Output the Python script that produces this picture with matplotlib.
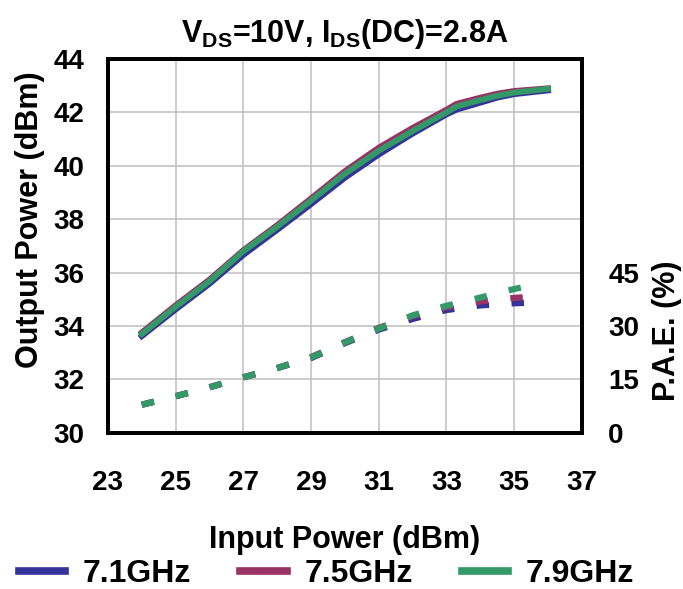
import matplotlib
matplotlib.use("Agg")
import matplotlib.pyplot as plt

plt.rcParams["font.family"] = ["Liberation Sans", "DejaVu Sans"]
plt.rcParams["font.weight"] = "bold"
plt.rcParams["mathtext.fontset"] = "custom"
plt.rcParams["mathtext.rm"] = "Liberation Sans:bold"
plt.rcParams["mathtext.it"] = "Liberation Sans:bold"
plt.rcParams["mathtext.bf"] = "Liberation Sans:bold"

# input power sweep (dBm)
pin = [24, 25, 26, 27, 28, 29, 30, 31, 32, 33, 33.3, 34, 34.5, 35, 36]

# output power (dBm)
pout_71 = [33.62, 34.62, 35.58, 36.66, 37.6, 38.56, 39.55, 40.42, 41.2, 41.92, 42.1, 42.36, 42.55, 42.68, 42.82]
pout_75 = [33.76, 34.78, 35.74, 36.84, 37.78, 38.78, 39.8, 40.68, 41.42, 42.1, 42.32, 42.55, 42.7, 42.8, 42.9]
pout_79 = [33.7, 34.72, 35.68, 36.8, 37.72, 38.7, 39.7, 40.56, 41.3, 42.0, 42.22, 42.46, 42.62, 42.74, 42.88]

# P.A.E. (%)
pin_pae = [24, 25, 26, 27, 28, 29, 30, 31, 32, 33, 34, 35, 35.3]
pae_71 = [7.9, 10.3, 12.8, 15.6, 18.2, 21.0, 25.2, 29.0, 32.0, 34.5, 35.8, 36.4, 36.5]
pae_75 = [7.9, 10.3, 12.8, 15.6, 18.2, 21.3, 25.5, 29.5, 32.8, 35.3, 36.9, 37.9, 38.1]
pae_79 = [7.9, 10.3, 12.8, 15.6, 18.2, 21.2, 25.4, 29.3, 33.0, 35.7, 38.0, 40.4, 41.0]

labels = ["7.1GHz", "7.5GHz", "7.9GHz"]
colors = ["#333399", "#993366", "#339966"]

x_ticks = [23, 25, 27, 29, 31, 33, 35, 37]
y_ticks = [30, 32, 34, 36, 38, 40, 42, 44]
pae_ticks = [0, 15, 30, 45]

fig = plt.figure(figsize=(6.83, 5.89), dpi=100)
ax = fig.add_axes([0.158, 0.265, 0.694, 0.635])
ax2 = ax.twinx()

lines = []
for pout, c, lab in zip([pout_71, pout_75, pout_79], colors, labels):
    ln, = ax.plot(pin, pout, color=c, lw=4.2, label=lab, solid_joinstyle="round", zorder=3)
    lines.append(ln)

for pae, c in zip([pae_71, pae_75, pae_79], colors):
    ax2.plot(pin_pae, pae, color=c, lw=4.5, linestyle=(0, (2, 3.6)), dash_capstyle="butt")

ax.set_xlim(23, 37)
ax.set_ylim(30, 44)
ax.set_xticks(x_ticks)
ax.set_yticks(y_ticks)
ax2.set_ylim(0, 105)
ax2.set_yticks(pae_ticks)

ax.grid(True, color="#bfbfbf", lw=1.1)
ax.set_axisbelow(True)
ax.tick_params(axis="x", length=0, pad=27, labelsize=20)
ax.tick_params(axis="y", length=0, pad=17, labelsize=20)
ax2.tick_params(axis="y", length=0, pad=19, labelsize=20)

for sp in ax.spines.values():
    sp.set_linewidth(2.8)
for sp in ax2.spines.values():
    sp.set_linewidth(2.8)

ax.set_title(r"V$_{DS}$=10V, I$_{DS}$(DC)=2.8A", fontsize=22, fontweight="bold", pad=12)

ax.set_xlabel("Input Power (dBm)", fontsize=22, fontweight="bold")
ax.xaxis.label.set_va("center")
ax.xaxis.set_label_coords(0.5, -0.285)

ax.set_ylabel("Output Power (dBm)", fontsize=22, fontweight="bold")
ax.yaxis.label.set_va("center")
ax.yaxis.set_label_coords(-0.165, 0.57)

ax2.set_ylabel("P.A.E. (%)", fontsize=22, fontweight="bold")
ax2.yaxis.label.set_va("center")
ax2.yaxis.set_label_coords(1.179, 0.273)

leg = fig.legend(handles=lines, loc="center", bbox_to_anchor=(0.478, 0.025), ncol=3,
                 frameon=False, fontsize=23, handlelength=1.45, handletextpad=0.55,
                 columnspacing=1.55, borderpad=0.1)
for h in leg.legend_handles:
    h.set_linewidth(5.5)

fig.savefig("out.png", dpi=100)
